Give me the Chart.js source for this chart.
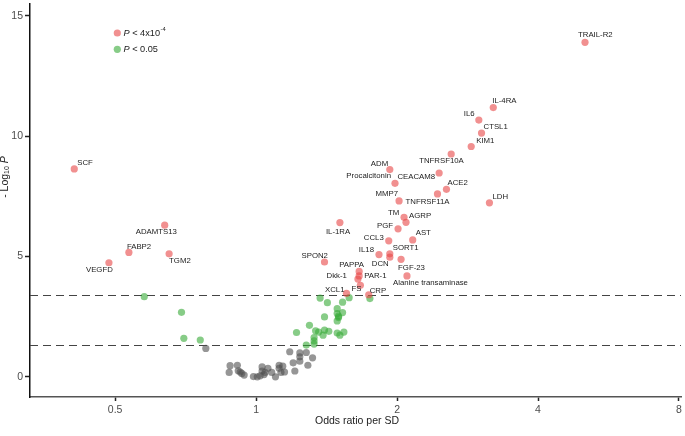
<!DOCTYPE html>
<html>
<head>
<meta charset="utf-8">
<script src="https://cdn.jsdelivr.net/npm/chart.js@4"></script>
<style>
  html, body { margin: 0; padding: 0; background: #fff; }
</style>
</head>
<body>
<canvas id="volcano" width="685" height="436"></canvas>
<script>
// significant proteins (P < 4x10^-4)
const redNames = ['TRAIL-R2', 'IL-4RA', 'IL6', 'CTSL1', 'KIM1', 'TNFRSF10A', 'ADM', 'CEACAM8', 'Procalcitonin',
  'ACE2', 'TNFRSF11A', 'MMP7', 'LDH', 'TM', 'AGRP', 'IL-1RA', 'PGF', 'AST', 'CCL3', 'SORT1', 'IL18', 'DCN',
  'FGF-23', 'SPON2', 'PAPPA', 'PAR-1', 'Alanine transaminase', 'Dkk-1', 'FS', 'XCL1', 'CRP',
  'SCF', 'ADAMTS13', 'FABP2', 'TGM2', 'VEGFD'];
const redOR = [5.04, 3.21, 2.99, 3.03, 2.88, 2.61, 1.93, 2.46, 1.98,
  2.55, 2.44, 2.02, 3.15, 2.07, 2.09, 1.51, 2.01, 2.16, 1.92, 1.93, 1.83, 1.93,
  2.04, 1.40, 1.66, 1.66, 2.10, 1.65, 1.67, 1.56, 1.74,
  0.409, 0.638, 0.535, 0.652, 0.485];
const redLogP = [13.9, 11.19, 10.67, 10.13, 9.57, 9.26, 8.61, 8.47, 8.04,
  7.79, 7.60, 7.31, 7.23, 6.63, 6.42, 6.41, 6.15, 5.69, 5.65, 5.11, 5.08, 4.97,
  4.88, 4.77, 4.38, 4.19, 4.19, 4.06, 3.80, 3.47, 3.41,
  8.64, 6.30, 5.17, 5.11, 4.74];

// nominally significant (P < 0.05)
const greenOR = [0.577, 0.693, 0.701, 0.760, 1.37, 1.42, 1.53, 1.58, 1.75, 1.49, 1.49, 1.50, 1.50, 1.49,
  1.53, 1.40, 1.30, 1.22, 1.34, 1.36, 1.40, 1.43, 1.39, 1.49, 1.54, 1.51, 1.33, 1.33, 1.33, 1.28];
const greenLogP = [3.33, 2.68, 1.60, 1.53, 3.27, 3.08, 3.10, 3.29, 3.25, 2.83, 2.63, 2.52, 2.46, 2.32,
  2.67, 2.49, 2.14, 1.84, 1.91, 1.86, 1.94, 1.89, 1.73, 1.82, 1.86, 1.73, 1.63, 1.49, 1.36, 1.32];

// not significant
const greyOR = [0.781, 1.18, 1.24, 1.28, 1.24, 1.32, 1.20, 1.24, 1.29, 1.21, 0.88, 0.912, 0.876, 0.916,
  0.932, 0.943, 0.925, 0.987, 1.006, 1.02, 1.03, 1.03, 1.045, 1.04, 1.08, 1.10, 1.12, 1.12, 1.14, 1.13,
  1.15, 1.06];
const greyLogP = [1.18, 1.04, 0.99, 1.01, 0.83, 0.79, 0.58, 0.65, 0.48, 0.24, 0.46, 0.48, 0.18, 0.25,
  0.14, 0.07, 0.20, 0.01, 0.0, 0.04, 0.41, 0.24, 0.18, 0.09, 0.18, 0.0, 0.48, 0.35, 0.44, 0.18,
  0.20, 0.35];

const xTicks = [0.5, 1, 2, 4, 8];
const yTicks = [0, 5, 10, 15];
const thresholds = [-Math.log10(4e-4), -Math.log10(0.05)];

// label placement next to each red point: [dx, dy, align]
const labelPlace = {
  'TRAIL-R2': [-7, -7, 'left'], 'IL-4RA': [-1, -7, 'left'], 'IL6': [-15, -6, 'left'],
  'CTSL1': [2, -6, 'left'], 'KIM1': [5, -6, 'left'], 'TNFRSF10A': [-32, 7, 'left'],
  'ADM': [-19, -6, 'left'], 'CEACAM8': [-4, 4, 'right'], 'Procalcitonin': [-4, -7, 'right'],
  'ACE2': [1, -7, 'left'], 'TNFRSF11A': [-32, 8, 'left'], 'MMP7': [-1, -7, 'right'],
  'LDH': [3, -6, 'left'], 'TM': [-16, -4, 'left'], 'AGRP': [3, -6, 'left'],
  'IL-1RA': [-14, 9, 'left'], 'PGF': [-5, -3, 'right'], 'AST': [3, -7, 'left'],
  'CCL3': [-5, -3, 'right'], 'SORT1': [3, -6, 'left'], 'IL18': [-5, -5, 'right'],
  'DCN': [-18, 7, 'left'], 'FGF-23': [-3, 8, 'left'], 'SPON2': [-23, -6, 'left'],
  'PAPPA': [-20, -7, 'left'], 'PAR-1': [5, 0, 'left'], 'Alanine transaminase': [-14, 7, 'left'],
  'Dkk-1': [-11, -3, 'right'], 'FS': [-9, 3, 'left'], 'XCL1': [-2, -3, 'right'],
  'CRP': [1, -4, 'left'], 'SCF': [3, -6, 'left'], 'ADAMTS13': [-29, 7, 'left'],
  'FABP2': [-2, -6, 'left'], 'TGM2': [0, 7, 'left'], 'VEGFD': [-23, 7, 'left']
};

const FONT = "'Liberation Sans', Arial, sans-serif";
const RED = 'rgba(232, 70, 70, 0.6)';
const GREEN = 'rgba(55, 170, 55, 0.6)';
const GREY = 'rgba(80, 80, 80, 0.6)';

const toPoints = (xs, ys) => xs.map((x, i) => ({ x: x, y: ys[i] }));

// dashed significance lines behind the points
const thresholdLines = {
  id: 'thresholdLines',
  beforeDatasetsDraw(chart) {
    const { ctx, chartArea, scales } = chart;
    ctx.save();
    ctx.strokeStyle = '#444';
    ctx.lineWidth = 1;
    ctx.setLineDash([8, 5]);
    thresholds.forEach(t => {
      const y = Math.round(scales.y.getPixelForValue(t)) + 0.5;
      ctx.beginPath();
      ctx.moveTo(chartArea.left, y);
      ctx.lineTo(chartArea.right, y);
      ctx.stroke();
    });
    ctx.restore();
  }
};

// point labels, legend and axis titles
const annotations = {
  id: 'annotations',
  afterDatasetsDraw(chart) {
    const { ctx, scales } = chart;
    ctx.save();

    // protein labels
    ctx.font = `7.8px ${FONT}`;
    ctx.fillStyle = '#222';
    ctx.textBaseline = 'middle';
    redNames.forEach((name, i) => {
      const p = labelPlace[name];
      if (!p) return;
      const px = scales.x.getPixelForValue(redOR[i]);
      const py = scales.y.getPixelForValue(redLogP[i]);
      ctx.textAlign = p[2];
      ctx.fillText(name, px + p[0], py + p[1]);
    });

    // legend
    const legendItems = [[RED, ' < 4x10', '-4', 33], [GREEN, ' < 0.05', '', 49.3]];
    legendItems.forEach(([col, txt, sup, y]) => {
      ctx.fillStyle = col;
      ctx.beginPath();
      ctx.arc(117.3, y, 3.6, 0, Math.PI * 2);
      ctx.fill();
      ctx.fillStyle = '#222';
      ctx.textAlign = 'left';
      ctx.font = `italic 9.2px ${FONT}`;
      let x = 123.5;
      ctx.fillText('P', x, y);
      x += ctx.measureText('P').width;
      ctx.font = `9.2px ${FONT}`;
      ctx.fillText(txt, x, y);
      x += ctx.measureText(txt).width;
      if (sup) {
        ctx.font = `5.8px ${FONT}`;
        ctx.fillText(sup, x + 0.5, y - 3.2);
      }
    });

    // x axis title
    ctx.font = `10.5px ${FONT}`;
    ctx.fillStyle = '#222';
    ctx.textAlign = 'center';
    ctx.fillText('Odds ratio per SD', 357, 421.5);

    // y axis title, rotated
    ctx.translate(5, 177);
    ctx.rotate(-Math.PI / 2);
    const parts = [['- Log', `10.5px ${FONT}`, 0], ['10', `7px ${FONT}`, 2.5], [' P', `italic 10.5px ${FONT}`, 0]];
    let total = 0;
    parts.forEach(([t, f]) => { ctx.font = f; total += ctx.measureText(t).width; });
    let tx = -total / 2;
    ctx.textAlign = 'left';
    parts.forEach(([t, f, dy]) => {
      ctx.font = f;
      ctx.fillText(t, tx, dy);
      tx += ctx.measureText(t).width;
    });

    ctx.restore();
  }
};

const chart = new Chart(document.getElementById('volcano'), {
  type: 'scatter',
  data: {
    datasets: [
      { label: 'P < 4x10-4', data: toPoints(redOR, redLogP), backgroundColor: RED },
      { label: 'P < 0.05', data: toPoints(greenOR, greenLogP), backgroundColor: GREEN },
      { label: 'NS', data: toPoints(greyOR, greyLogP), backgroundColor: GREY }
    ]
  },
  options: {
    responsive: false,
    devicePixelRatio: 1,
    animation: false,
    layout: { padding: { left: 0, right: 4, top: 0, bottom: 0 } },
    elements: { point: { radius: 3.6, borderWidth: 0, hoverRadius: 3.6 } },
    plugins: { legend: { display: false }, tooltip: { enabled: false } },
    scales: {
      x: {
        type: 'logarithmic',
        bounds: 'data',
        min: 0.329,
        max: 8.08,
        afterBuildTicks: s => { s.ticks = xTicks.map(v => ({ value: v })); },
        afterFit: s => { s.height = 39; s.paddingLeft = 0; s.paddingRight = 0; },
        ticks: {
          callback: v => String(v),
          color: '#4d4d4d',
          font: { family: FONT, size: 10.5 },
          padding: 3,
          autoSkip: false,
          maxRotation: 0
        },
        grid: { drawOnChartArea: false, tickLength: 4, tickColor: '#222', tickWidth: 1.5 },
        border: { color: '#555', width: 1.5 }
      },
      y: {
        bounds: 'data',
        min: -0.84,
        max: 15.51,
        afterBuildTicks: s => { s.ticks = yTicks.map(v => ({ value: v })); },
        afterFit: s => { s.width = 30; s.paddingTop = 0; s.paddingBottom = 0; },
        ticks: {
          color: '#4d4d4d',
          font: { family: FONT, size: 10.5 },
          padding: 2
        },
        grid: { drawOnChartArea: false, tickLength: 5, tickColor: '#222', tickWidth: 1.5 },
        border: { color: '#111', width: 1.5 }
      }
    }
  },
  plugins: [thresholdLines, annotations]
});
</script>
</body>
</html>
